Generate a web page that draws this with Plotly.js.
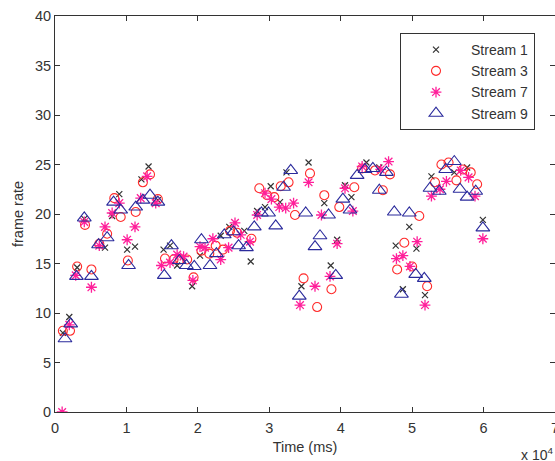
<!DOCTYPE html>
<html>
<head>
<meta charset="utf-8">
<script src="https://cdn.plot.ly/plotly-3.0.1.min.js"></script>
<style>html,body{margin:0;padding:0;background:#fff;}#chart{width:555px;height:461px;}</style>
</head>
<body>
<div id="chart"></div>
<script>
// Time in units of 1e4 ms
const s1x = [0.11,0.2,0.31,0.41,0.7,0.8,0.9,1.01,1.12,1.21,1.31,1.44,1.52,1.61,1.71,1.92,2.03,2.32,2.44,2.65,2.74,2.83,2.94,3.02,3.15,3.24,3.45,3.55,3.77,3.86,3.95,4.06,4.15,4.36,4.54,4.77,4.87,4.96,5.06,5.18,5.27,5.59,5.77,5.99];
const s1y = [8.0,9.6,14.6,19.5,16.6,19.8,22.0,16.4,16.7,23.5,24.8,21.4,16.4,16.8,14.8,12.7,15.8,17.8,18.7,18.3,15.2,20.3,20.7,22.8,21.2,24.2,12.7,25.2,21.1,14.8,17.4,22.9,21.7,25.2,24.7,16.8,12.4,18.7,16.5,11.8,23.8,24.2,24.7,19.4];

const s3x = [0.11,0.21,0.31,0.42,0.51,0.62,0.73,0.83,0.92,1.02,1.13,1.23,1.33,1.44,1.54,1.66,1.75,1.85,1.94,2.05,2.16,2.25,2.35,2.45,2.55,2.75,2.86,2.97,3.07,3.16,3.27,3.36,3.48,3.57,3.67,3.77,3.87,3.98,4.19,4.3,4.48,4.59,4.69,4.79,4.89,5.0,5.1,5.21,5.32,5.41,5.51,5.62,5.71,5.82,5.91];
const s3y = [8.2,8.2,14.7,18.9,14.4,17.0,18.0,21.6,19.7,15.3,20.2,23.2,24.0,21.5,15.5,15.4,15.4,15.4,13.6,16.3,16.0,16.8,16.4,18.3,18.1,17.5,22.6,21.9,21.7,22.8,23.2,19.9,13.5,24.1,10.6,21.9,12.4,20.7,22.7,24.6,24.4,22.4,24.0,14.4,17.1,14.7,19.8,12.7,23.2,25.0,25.2,23.4,24.5,24.2,23.0];

const s7x = [0.1,0.2,0.29,0.41,0.51,0.62,0.7,0.8,0.9,1.01,1.12,1.2,1.29,1.41,1.49,1.61,1.71,1.8,1.93,2.03,2.1,2.21,2.32,2.43,2.52,2.6,2.73,2.83,2.94,3.03,3.14,3.23,3.34,3.43,3.55,3.64,3.73,3.85,3.95,4.06,4.17,4.3,4.56,4.67,4.78,4.87,4.97,5.07,5.18,5.27,5.39,5.48,5.68,5.79,5.88,5.99];
const s7y = [0,8.8,13.8,19.2,12.6,16.8,18.7,20.1,21.1,17.4,18.7,21.6,23.8,21.1,14.8,15.1,15.9,15.7,13.3,16.7,16.6,17.5,15.4,16.6,19.1,17.9,17.2,19.9,22.1,21.5,20.7,20.6,21.1,10.8,23.2,12.7,19.9,13.7,17.0,22.6,20.3,24.8,24.5,25.3,15.5,15.8,14.7,17.2,10.8,21.8,22.5,23.3,24.4,23.7,21.8,17.5];

const s9x = [0.14,0.22,0.3,0.41,0.51,0.61,0.73,0.82,0.92,1.03,1.13,1.23,1.33,1.44,1.53,1.63,1.74,1.84,1.95,2.05,2.17,2.26,2.37,2.5,2.57,2.68,2.79,2.89,2.99,3.09,3.2,3.3,3.42,3.51,3.64,3.71,3.83,3.93,4.03,4.13,4.23,4.34,4.45,4.54,4.64,4.75,4.85,4.96,5.05,5.17,5.25,5.38,5.47,5.59,5.67,5.77,5.89,5.99];
const s9y = [7.4,8.9,13.7,19.6,13.7,16.9,17.6,21.2,20.4,14.8,20.7,21.4,21.9,21.2,13.8,16.8,15.3,14.8,14.7,17.4,14.8,16.0,17.9,18.2,16.8,16.6,18.7,20.1,20.1,18.8,22.7,24.4,11.7,20.1,16.7,17.8,19.9,13.8,21.5,20.4,23.9,24.5,24.6,22.4,24.2,20.2,11.9,20.1,13.9,13.5,22.6,22.3,24.5,25.3,22.5,21.7,22.3,18.6];

const xTicks = [0,1,2,3,4,5,6,7];
const yTicks = [0,5,10,15,20,25,30,35,40];

const FONT = 'Liberation Sans, Arial, Helvetica, sans-serif';

const traces = [
  {x:s1x, y:s1y, name:'Stream 1', mode:'markers', type:'scatter',
   marker:{symbol:'x-thin-open', size:6, color:'#333333', line:{width:1.2, color:'#333333'}}},
  {x:s3x, y:s3y, name:'Stream 3', mode:'markers', type:'scatter',
   marker:{symbol:'circle-open', size:9, color:'#ff2a2a', line:{width:1.1, color:'#ff2a2a'}}},
  {x:s7x, y:s7y, name:'Stream 7', mode:'markers', type:'scatter',
   marker:{symbol:'asterisk-open', size:9, color:'#ff1f9a', line:{width:1.3, color:'#ff1f9a'}}},
  {x:s9x, y:s9y, name:'Stream 9', mode:'markers', type:'scatter',
   marker:{symbol:'triangle-up-open', size:12, color:'#2a2a9c', line:{width:1.1, color:'#2a2a9c'}}}
];

const axisCommon = {
  showline:true, linecolor:'#333', linewidth:1, mirror:'ticks',
  ticks:'inside', ticklen:5, tickcolor:'#333', tickwidth:1,
  showgrid:false, zeroline:false, ticklabeloverflow:'allow',
  tickfont:{family:FONT, size:14.5, color:'#333'}
};

const layout = {
  width:555, height:461,
  margin:{l:55, r:0, t:16, b:49},
  paper_bgcolor:'#fff', plot_bgcolor:'#fff',
  showlegend:true,
  xaxis:Object.assign({}, axisCommon, {
    range:[0,7], tickvals:xTicks, ticktext:xTicks.map(String), ticklabelstandoff:3,
    title:{text:'Time (ms)', font:{family:FONT, size:14.5, color:'#333'}, standoff:6}
  }),
  yaxis:Object.assign({}, axisCommon, {
    range:[0,40], tickvals:yTicks, ticktext:yTicks.map(String),
    title:{text:'frame rate', font:{family:FONT, size:14.5, color:'#333'}, standoff:7}
  }),
  legend:{
    x:0.69, y:0.957, xanchor:'left', yanchor:'top',
    bgcolor:'#fff', bordercolor:'#333', borderwidth:1,
    font:{family:FONT, size:14, color:'#333'},
    itemwidth:60, tracegroupgap:0
  },
  annotations:[{
    xref:'paper', yref:'paper', x:1, y:-0.105, xanchor:'right', yanchor:'middle',
    text:'x 10<sup>4</sup>', showarrow:false,
    font:{family:FONT, size:14, color:'#333'}
  }]
};

Plotly.newPlot('chart', traces, layout, {displayModeBar:false, staticPlot:true});
</script>
</body>
</html>
